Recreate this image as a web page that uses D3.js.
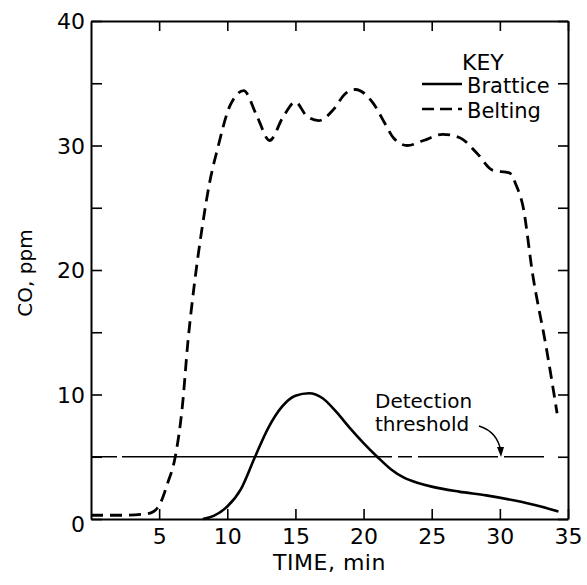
<!DOCTYPE html>
<html>
<head>
<meta charset="utf-8">
<script src="https://cdn.jsdelivr.net/npm/d3@7"></script>
<style>
  body { margin: 0; background: #fff; }
  text { font-family: "DejaVu Sans", sans-serif; fill: #000; }
</style>
</head>
<body>
<div id="vis"></div>
<script>
const FRAME_WIDTH = 587;
const FRAME_HEIGHT = 585;
const MARGINS = { left: 91, right: 19, top: 21, bottom: 66 };

// data
const beltingTime = [0, 2, 4, 4.6, 5.1, 5.6, 6.2, 6.7, 7.1, 7.6, 8.1, 8.7, 9.3, 10.2, 11.2, 12.2, 13.1, 14.1, 15.0, 15.8, 16.7, 17.8, 18.6, 19.4, 20.7, 21.6, 22.2, 23.2, 24.4, 25.8, 27.1, 28.3, 29.5, 30.7, 31.2, 31.7, 32.4, 33.4, 34.2];
const beltingCO = [0.3, 0.3, 0.4, 0.6, 1.3, 2.8, 5.1, 9.0, 14.1, 19.0, 23.0, 27.0, 29.8, 33.2, 34.4, 32.3, 30.4, 32.3, 33.5, 32.4, 32.0, 32.9, 34.1, 34.5, 33.4, 31.7, 30.6, 30.0, 30.4, 30.9, 30.6, 29.4, 28.0, 27.8, 26.8, 25.1, 19.7, 13.8, 8.5];
const bratticeTime = [8.2, 9, 10, 11, 12, 13, 14, 15, 16, 17, 18, 19, 20, 21, 22, 23, 24, 25, 27, 29, 31, 33, 34.3];
const bratticeCO = [0, 0.25, 1.0, 2.4, 4.9, 7.3, 9.0, 9.9, 10.1, 9.7, 8.6, 7.3, 6.1, 5.0, 4.0, 3.3, 2.9, 2.6, 2.2, 1.9, 1.5, 1.0, 0.6];
const threshold = 5;
const xTicks = [5, 10, 15, 20, 25, 30, 35];
const yTicks = [0, 5, 10, 15, 20, 25, 30, 35, 40];
const seriesNames = ["Brattice", "Belting"];

const VIS_WIDTH = FRAME_WIDTH - MARGINS.left - MARGINS.right;
const VIS_HEIGHT = FRAME_HEIGHT - MARGINS.top - MARGINS.bottom;

const svg = d3.select("#vis")
  .append("svg")
  .attr("width", FRAME_WIDTH)
  .attr("height", FRAME_HEIGHT);

const X_SCALE = d3.scaleLinear().domain([0, 35]).range([MARGINS.left, MARGINS.left + VIS_WIDTH]);
const Y_SCALE = d3.scaleLinear().domain([0, 40]).range([MARGINS.top + VIS_HEIGHT, MARGINS.top]);

// axes, ticks pointing inward
const yLeft = svg.append("g")
  .attr("transform", "translate(" + MARGINS.left + ",0)")
  .call(d3.axisLeft(Y_SCALE).tickValues(yTicks).tickSize(-11).tickSizeOuter(0).tickPadding(6)
    .tickFormat(d => d % 10 === 0 ? d : ""));
yLeft.selectAll("text").attr("font-size", "22px").attr("font-family", "DejaVu Sans")
  .attr("dy", d => d === 0 ? "0.55em" : "0.36em");

svg.append("g")
  .attr("transform", "translate(" + (MARGINS.left + VIS_WIDTH) + ",0)")
  .call(d3.axisRight(Y_SCALE).tickValues(yTicks).tickSize(-10).tickSizeOuter(0).tickFormat(""));

const xBottom = svg.append("g")
  .attr("transform", "translate(0," + (MARGINS.top + VIS_HEIGHT) + ")")
  .call(d3.axisBottom(X_SCALE).tickValues(xTicks).tickSize(-10).tickSizeOuter(0).tickPadding(9));
xBottom.selectAll("text").attr("font-size", "22px").attr("font-family", "DejaVu Sans");

svg.append("g")
  .attr("transform", "translate(0," + MARGINS.top + ")")
  .call(d3.axisTop(X_SCALE).tickValues(xTicks).tickSize(-10).tickSizeOuter(0).tickFormat(""));

svg.selectAll(".domain").attr("stroke-width", 2);
svg.selectAll(".tick line").attr("stroke-width", 1.6);

// axis titles
svg.append("text")
  .attr("x", MARGINS.left + VIS_WIDTH / 2)
  .attr("y", 570)
  .attr("text-anchor", "middle")
  .attr("font-size", "22px")
  .attr("letter-spacing", "0.5px")
  .text("TIME, min");

svg.append("text")
  .attr("transform", "translate(32,273) rotate(-90)")
  .attr("text-anchor", "middle")
  .attr("font-size", "20px")
  .text("CO, ppm");

// threshold line
svg.append("line")
  .attr("x1", X_SCALE(0)).attr("x2", X_SCALE(35))
  .attr("y1", Y_SCALE(threshold)).attr("y2", Y_SCALE(threshold))
  .attr("stroke", "#000").attr("stroke-width", 1.6)
  .attr("stroke-dasharray", "26,5,270,6,14,6,80,6,40");

const line = d3.line()
  .x(d => X_SCALE(d[0]))
  .y(d => Y_SCALE(d[1]))
  .curve(d3.curveMonotoneX);

svg.append("path")
  .datum(d3.zip(beltingTime, beltingCO))
  .attr("d", line)
  .attr("fill", "none")
  .attr("stroke", "#000")
  .attr("stroke-width", 2.8)
  .attr("stroke-dasharray", "12,7");

svg.append("path")
  .datum(d3.zip(bratticeTime, bratticeCO))
  .attr("d", line)
  .attr("fill", "none")
  .attr("stroke", "#000")
  .attr("stroke-width", 2.6);

// annotation
svg.append("text").attr("x", 375).attr("y", 408).attr("font-size", "20px").text("Detection");
svg.append("text").attr("x", 375).attr("y", 431).attr("font-size", "20px").text("threshold");
svg.append("path")
  .attr("d", "M479,426 Q498,432 501,452")
  .attr("fill", "none").attr("stroke", "#000").attr("stroke-width", 1.4);
svg.append("path")
  .attr("d", "M497,447 L501,457 L504,447 Z")
  .attr("fill", "#000");

// legend
svg.append("text").attr("x", 462).attr("y", 70).attr("font-size", "22px").text("KEY");
const legend = svg.append("g");
seriesNames.forEach((name, i) => {
  const y = 84 + i * 25;
  legend.append("line")
    .attr("x1", 422).attr("x2", 462).attr("y1", y).attr("y2", y)
    .attr("stroke", "#000").attr("stroke-width", 2.6)
    .attr("stroke-dasharray", i === 1 ? "12,6" : null);
  legend.append("text")
    .attr("x", 467).attr("y", y + 9)
    .attr("font-size", "21px")
    .text(name);
});
</script>
</body>
</html>
